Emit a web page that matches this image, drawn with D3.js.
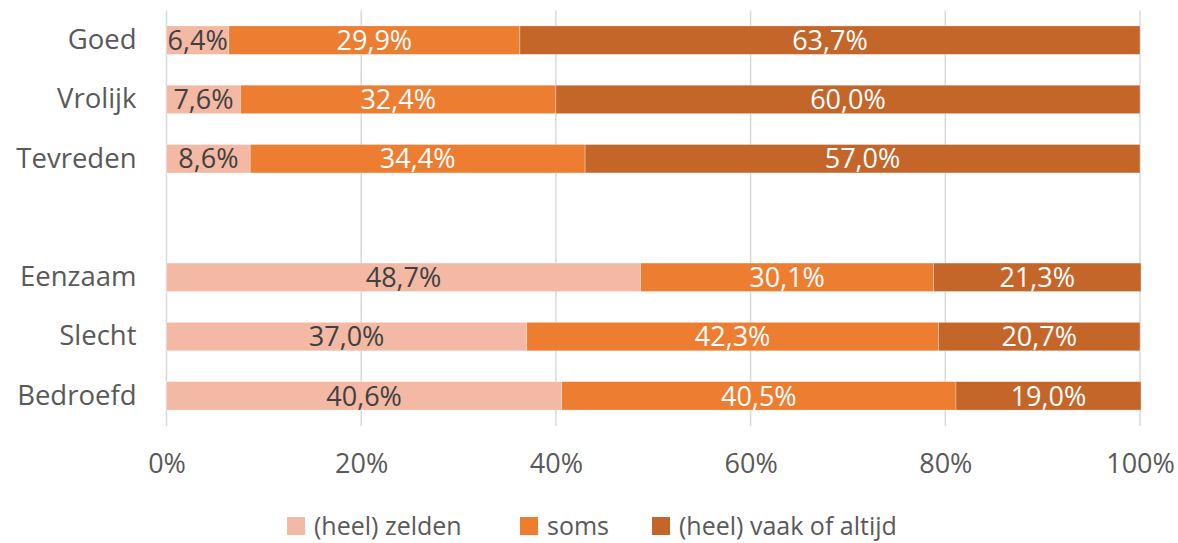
<!DOCTYPE html>
<html>
    <head>
        <script src="https://d3js.org/d3.v7.min.js"></script>
        <style>
            body { margin: 0; background: #fff; }
            text { font-family: "Open Sans", sans-serif; }
        </style>
    </head>
    <body>
        <svg width="1178" height="543"></svg>

        <script>
            // data
            const categories = ["Goed", "Vrolijk", "Tevreden", "Eenzaam", "Slecht", "Bedroefd"];
            const series = ["(heel) zelden", "soms", "(heel) vaak of altijd"];
            const zelden = [6.4, 7.6, 8.6, 48.7, 37.0, 40.6];
            const soms = [29.9, 32.4, 34.4, 30.1, 42.3, 40.5];
            const vaak = [63.7, 60.0, 57.0, 21.3, 20.7, 19.0];
            const ticks = [0, 20, 40, 60, 80, 100];

            const colors = ["#F4B9A4", "#ED7D31", "#C4662A"];
            const labelColors = ["#404040", "#ffffff", "#ffffff"];

            const svg = d3.select("svg");

            // table for d3.stack
            const rows = categories.map((c, i) => ({
                cat: c,
                [series[0]]: zelden[i],
                [series[1]]: soms[i],
                [series[2]]: vaak[i]
            }));
            const stacked = d3.stack().keys(series)(rows);

            // empty slot between the positive and negative emotions
            const domain = ["Goed", "Vrolijk", "Tevreden", "__gap", "Eenzaam", "Slecht", "Bedroefd"];

            const x = d3.scaleLinear().domain([0, 100]).range([166.5, 1140]);
            const y = d3.scaleBand()
                .domain(domain)
                .range([10.5, 425.5])
                .paddingInner(0.52)
                .paddingOuter(0.26);

            // vertical gridlines
            svg.append("g")
                .selectAll("line")
                .data(ticks)
                .join("line")
                .attr("x1", d => x(d))
                .attr("x2", d => x(d))
                .attr("y1", 10.5)
                .attr("y2", 426)
                .attr("stroke", "#d9d9d9")
                .attr("stroke-width", 1.5);

            // x axis labels
            const xAxis = svg.append("g")
                .attr("transform", "translate(0,426)")
                .call(d3.axisBottom(x).tickValues(ticks).tickFormat(d => d + "%").tickSize(0).tickPadding(28));
            xAxis.select(".domain").remove();
            xAxis.selectAll("text")
                .style("font-family", "'Open Sans', sans-serif")
                .style("font-size", "27px")
                .attr("fill", "#595959");

            // category labels
            const yAxis = svg.append("g")
                .attr("transform", "translate(166.5,0)")
                .call(d3.axisLeft(y).tickFormat(d => d === "__gap" ? "" : d).tickSize(0).tickPadding(30));
            yAxis.select(".domain").remove();
            yAxis.selectAll("text")
                .style("font-family", "'Open Sans', sans-serif")
                .style("font-size", "27.5px")
                .attr("fill", "#595959");

            // stacked bars
            const groups = svg.append("g")
                .selectAll("g")
                .data(stacked)
                .join("g")
                .attr("fill", (d, i) => colors[i]);

            groups.selectAll("rect")
                .data(d => d)
                .join("rect")
                .attr("x", d => x(d[0]))
                .attr("y", d => y(d.data.cat))
                .attr("width", d => x(d[1]) - x(d[0]))
                .attr("height", y.bandwidth())
                .attr("stroke", "#ffffff")
                .attr("stroke-opacity", 0.4)
                .attr("stroke-width", 0.75);

            // data labels
            svg.append("g")
                .selectAll("g")
                .data(stacked)
                .join("g")
                .attr("fill", (d, i) => labelColors[i])
                .selectAll("text")
                .data(d => d)
                .join("text")
                .attr("x", d => (x(d[0]) + x(d[1])) / 2)
                .attr("y", d => y(d.data.cat) + y.bandwidth() / 2)
                .attr("dy", "0.36em")
                .attr("text-anchor", "middle")
                .style("font-size", "27px")
                .text(d => (d[1] - d[0]).toFixed(1).replace(".", ",") + "%");

            // legend
            const legendX = [287, 520, 652];
            const legend = svg.append("g")
                .selectAll("g")
                .data(series)
                .join("g")
                .attr("transform", (d, i) => `translate(${legendX[i]},517)`);
            legend.append("rect")
                .attr("width", 18)
                .attr("height", 18)
                .attr("fill", (d, i) => colors[i]);
            legend.append("text")
                .attr("x", 27)
                .attr("y", 9)
                .attr("dy", "0.36em")
                .attr("fill", "#595959")
                .style("font-size", "25px")
                .text(d => d);
        </script>
    </body>
</html>
